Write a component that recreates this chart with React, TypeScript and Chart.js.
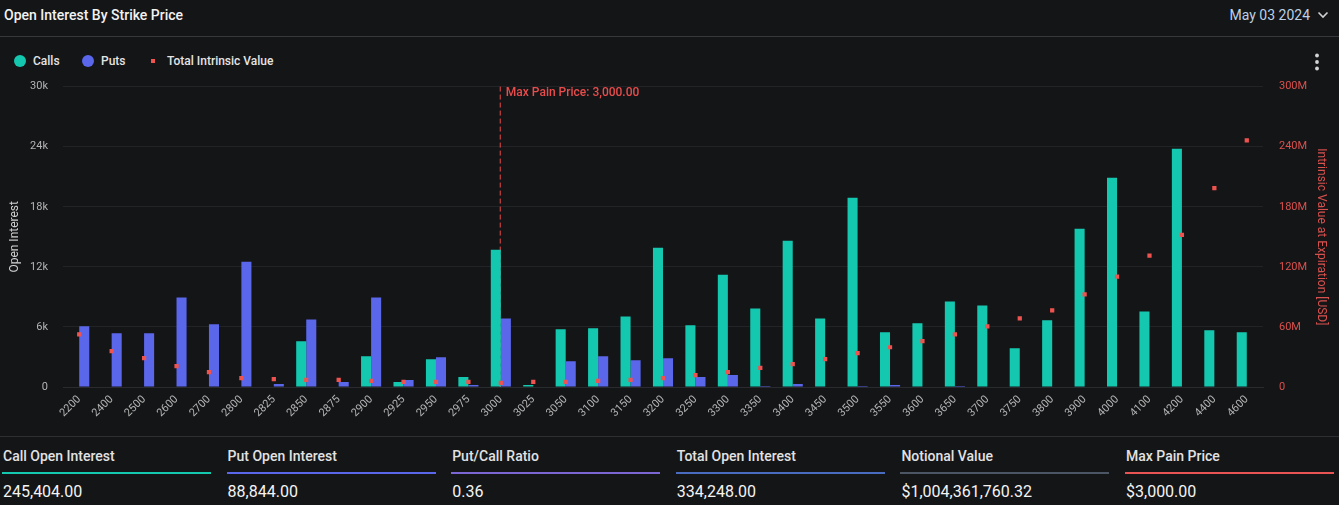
import React, { useEffect, useRef } from "react";
import { Chart, registerables } from "chart.js";

Chart.register(...registerables);

const strikes = ["2200","2400","2500","2600","2700","2800","2825","2850","2875","2900","2925","2950","2975","3000","3025","3050","3100","3150","3200","3250","3300","3350","3400","3450","3500","3550","3600","3650","3700","3750","3800","3900","4000","4100","4200","4400","4600"];

const callsOI = [0,0,0,0,0,0,0,4570,0,3080,500,2780,1000,13700,200,5760,5860,7050,13900,6160,11200,7850,14600,6850,18900,5460,6360,8540,8150,3870,6660,15800,20900,7550,23800,5660,5460];

const putsOI = [6060,5360,5360,8940,6260,12500,300,6750,500,8940,700,2980,200,6850,0,2580,3080,2680,2880,1000,1190,100,300,0,100,200,0,100,0,0,0,0,0,0,0,0,0];

const intrinsicM = [52.6,35.8,28.8,20.9,14.9,8.9,7.9,7.0,7.0,6.0,5.0,5.0,5.0,4.0,5.0,5.0,6.0,7.0,8.9,11.9,14.9,19.2,22.8,27.8,33.8,39.7,45.7,52.6,60.6,68.5,76.5,92.4,110.3,131.1,152.0,198.7,246.4];

const leftTicksMax = 30000;
const leftStep = 6000;
const rightTicksMax = 300e6;
const rightStep = 60e6;

const maxPainStrike = "3000";
const maxPainLabel = "Max Pain Price: 3,000.00";

const statTitles = ["Call Open Interest","Put Open Interest","Put/Call Ratio","Total Open Interest","Notional Value","Max Pain Price"];
const statValues = ["245,404.00","88,844.00","0.36","334,248.00","$1,004,361,760.32","$3,000.00"];
const statColors = ["#14c8b0","#5b67ea","#7b66d4","#4a6cc0","#4b5563","#e85454"];

const CALL_COLOR = "#14c8b0";
const PUT_COLOR = "#5b67ea";
const RED = "#ef5350";
const BG = "#141517";
const FONT = "Roboto, 'Noto Sans', sans-serif";

const maxPainPlugin = {
  id: "maxPain",
  beforeDatasetsDraw(chart: any) {
    const { ctx, chartArea, scales } = chart;
    const x = scales.x.getPixelForValue(strikes.indexOf(maxPainStrike));
    ctx.save();
    ctx.strokeStyle = "#e84c4c";
    ctx.lineWidth = 1;
    ctx.setLineDash([5, 3]);
    ctx.beginPath();
    ctx.moveTo(x - 0.6, chartArea.top);
    ctx.lineTo(x - 0.6, chartArea.bottom);
    ctx.stroke();
    ctx.restore();
  },
  afterDatasetsDraw(chart: any) {
    const { ctx, chartArea, scales } = chart;
    const x = scales.x.getPixelForValue(strikes.indexOf(maxPainStrike));
    ctx.save();
    ctx.fillStyle = "#e84c4c";
    ctx.font = `500 12px ${FONT}`;
    ctx.textBaseline = "middle";
    ctx.textAlign = "left";
    ctx.fillText(maxPainLabel, x + 5, chartArea.top + 6);
    ctx.restore();
  },
};

export default function App() {
  const canvasRef = useRef<HTMLCanvasElement | null>(null);

  useEffect(() => {
    document.body.style.margin = "0";
    document.body.style.background = BG;
    const canvas = canvasRef.current;
    if (!canvas) return;
    Chart.defaults.font.family = FONT;
    const chart = new Chart(canvas, {
      type: "bar",
      data: {
        labels: strikes,
        datasets: [
          {
            type: "line" as any,
            label: "Total Intrinsic Value",
            data: intrinsicM.map((v) => v * 1e6),
            yAxisID: "y1",
            showLine: false,
            pointStyle: "rect",
            pointRadius: 3,
            pointHoverRadius: 3,
            pointBorderWidth: 0,
            backgroundColor: RED,
            borderColor: RED,
            order: 0,
          } as any,
          {
            label: "Calls",
            data: callsOI,
            backgroundColor: CALL_COLOR,
            yAxisID: "y",
            barPercentage: 1,
            categoryPercentage: 0.62,
            order: 1,
          },
          {
            label: "Puts",
            data: putsOI,
            backgroundColor: PUT_COLOR,
            yAxisID: "y",
            barPercentage: 1,
            categoryPercentage: 0.62,
            order: 1,
          },
        ],
      },
      options: {
        animation: false,
        responsive: true,
        maintainAspectRatio: false,
        layout: { padding: { top: 10, left: 0, right: 0, bottom: 0 } },
        plugins: {
          legend: { display: false },
          tooltip: { enabled: false },
        },
        scales: {
          x: {
            grid: { display: false, drawTicks: false },
            border: { display: true, color: "#2a2b2e" },
            ticks: {
              color: "#b4b4b4",
              font: { size: 11, family: FONT },
              minRotation: 45,
              maxRotation: 45,
              autoSkip: false,
              padding: 6,
            },
            afterFit: (s: any) => {
              s.height = 43;
            },
          },
          y: {
            position: "left",
            min: 0,
            max: leftTicksMax,
            ticks: {
              stepSize: leftStep,
              color: "#b4b4b4",
              font: { size: 11, family: FONT },
              padding: 15,
              callback: (v: any) => (v === 0 ? "0" : `${Number(v) / 1000}k`),
            },
            grid: { color: "#222326", drawTicks: false },
            border: { display: false },
            title: {
              display: true,
              text: "Open Interest",
              color: "#d0d0d0",
              font: { size: 12, family: FONT },
              padding: { top: 8, bottom: 0 },
            },
            afterFit: (s: any) => {
              s.width = 63;
            },
          },
          y1: {
            position: "right",
            min: 0,
            max: rightTicksMax,
            ticks: {
              stepSize: rightStep,
              color: "#d9514e",
              font: { size: 11, family: FONT },
              padding: 16,
              callback: (v: any) => (v === 0 ? "0" : `${Number(v) / 1e6}M`),
            },
            grid: { display: false, drawTicks: false },
            border: { display: false },
            title: {
              display: true,
              text: "Intrinsic Value at Expiration [USD]",
              color: "#d9514e",
              font: { size: 12, family: FONT },
              padding: { top: 11, bottom: 0 },
            },
            afterFit: (s: any) => {
              s.width = 76;
            },
          },
        },
      },
      plugins: [maxPainPlugin],
    });
    return () => chart.destroy();
  }, []);

  const legendItems = [
    { label: "Calls", color: CALL_COLOR, shape: "circle" },
    { label: "Puts", color: PUT_COLOR, shape: "circle" },
    { label: "Total Intrinsic Value", color: RED, shape: "square" },
  ];
  const legendX = [14, 82, 151];
  const legendTextX = [33, 101, 167];

  return (
    <div
      style={{
        position: "absolute",
        left: 0,
        top: 0,
        width: 1339,
        height: 505,
        background: BG,
        fontFamily: FONT,
        overflow: "hidden",
        color: "#eee",
      }}
    >
      <div style={{ position: "absolute", left: 4, top: 6, fontSize: 14, fontWeight: 500, color: "#f2f2f2", lineHeight: "18px" }}>
        Open Interest By Strike Price
      </div>
      <div style={{ position: "absolute", right: 29, top: 6, fontSize: 14, color: "#bcd0e6", lineHeight: "18px" }}>
        May 03 2024
      </div>
      <svg style={{ position: "absolute", left: 1317, top: 10 }} width="12" height="10">
        <polyline points="1.5,2.5 6,7 10.5,2.5" fill="none" stroke="#d0d0d0" strokeWidth="1.6" />
      </svg>
      <div style={{ position: "absolute", left: 0, top: 36, width: 1339, height: 1, background: "#37383b" }} />

      {legendItems.map((it, i) => (
        <React.Fragment key={it.label}>
          {it.shape === "circle" ? (
            <div style={{ position: "absolute", left: legendX[i], top: 55, width: 12, height: 12, borderRadius: 6, background: it.color }} />
          ) : (
            <div style={{ position: "absolute", left: legendX[i], top: 59, width: 4, height: 4, background: it.color }} />
          )}
          <div style={{ position: "absolute", left: legendTextX[i], top: 53, fontSize: 12, fontWeight: 500, color: "#e4e4e4", lineHeight: "16px" }}>
            {it.label}
          </div>
        </React.Fragment>
      ))}

      <svg style={{ position: "absolute", left: 1313, top: 52 }} width="8" height="20">
        <circle cx="4" cy="3.5" r="1.9" fill="#d4d4d4" />
        <circle cx="4" cy="10" r="1.9" fill="#d4d4d4" />
        <circle cx="4" cy="16.5" r="1.9" fill="#d4d4d4" />
      </svg>

      <div style={{ position: "absolute", left: 0, top: 64, width: 1339, height: 366 }}>
        <canvas ref={canvasRef} />
      </div>

      <div style={{ position: "absolute", left: 0, top: 436, width: 1339, height: 1, background: "#2e2f32" }} />

      {statTitles.map((t, i) => (
        <div key={t} style={{ position: "absolute", left: 2 + i * 224.6, top: 447, width: 209 }}>
          <div style={{ fontSize: 14, fontWeight: 500, color: "#e2e2e2", lineHeight: "18px", paddingLeft: 1 }}>{t}</div>
          <div style={{ marginTop: 7, height: 2, background: statColors[i] }} />
          <div style={{ marginTop: 8, fontSize: 16, color: "#f4f4f4", lineHeight: "20px", paddingLeft: 1 }}>{statValues[i]}</div>
        </div>
      ))}
    </div>
  );
}
